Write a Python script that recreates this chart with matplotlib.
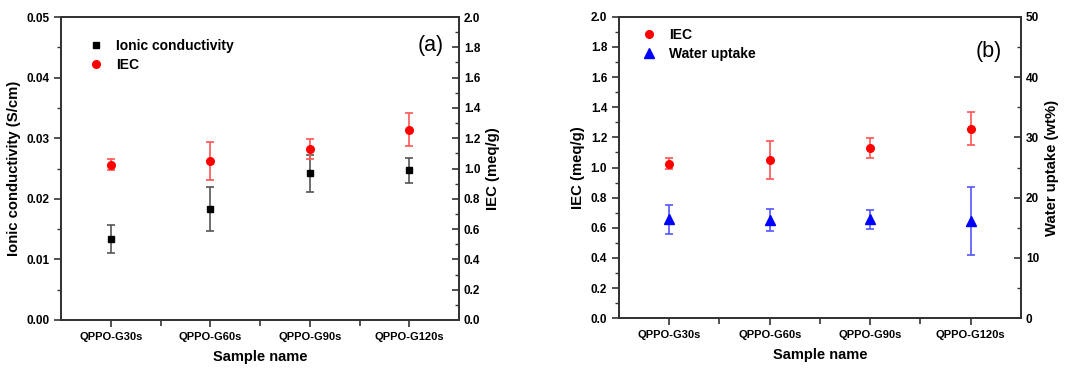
import matplotlib
matplotlib.use("Agg")
import matplotlib.pyplot as plt
from matplotlib.ticker import MultipleLocator

plt.rcParams['font.family'] = ['Liberation Sans', 'DejaVu Sans']

samples = ['QPPO-G30s', 'QPPO-G60s', 'QPPO-G90s', 'QPPO-G120s']
ionic = [0.0134, 0.0183, 0.0242, 0.0247]
ionic_err = [0.0023, 0.0036, 0.0031, 0.0021]
iec = [1.026, 1.049, 1.132, 1.257]
iec_err = [0.035, 0.125, 0.066, 0.11]
water = [16.4, 16.3, 16.4, 16.2]
water_err = [2.45, 1.75, 1.6, 5.65]

x = list(range(1, len(samples) + 1))
RED = '#ff0000'
BLUE = '#0000ff'
SPINE = '#333333'

fig = plt.figure(figsize=(10.72, 3.69), dpi=100)


def style_axes(ax, ax2):
    for a in (ax, ax2):
        for s in a.spines.values():
            s.set_linewidth(1.3)
            s.set_color(SPINE)
    ax.set_xlim(0.5, 4.5)
    ax.set_xticks(x)
    ax.set_xticklabels(samples, fontsize=8, fontweight='bold')
    ax.set_xticks([1.5, 2.5, 3.5], minor=True)
    ax.tick_params(axis='x', which='major', direction='out', length=5, width=1.2, colors=SPINE, labelcolor='black')
    ax.tick_params(axis='x', which='minor', direction='out', length=4, width=1.2, colors=SPINE)
    ax.tick_params(axis='y', which='major', direction='out', length=5, width=1.2, labelsize=8.5, colors=SPINE, labelcolor='black')
    ax.tick_params(axis='y', which='minor', direction='out', length=3, width=1.0, colors=SPINE)
    ax2.tick_params(axis='y', which='major', direction='in', length=5, width=1.2, labelsize=8.5, colors=SPINE, labelcolor='black')
    ax2.tick_params(axis='y', which='minor', direction='in', length=3, width=1.0, colors=SPINE)
    for lab in ax.get_yticklabels() + ax2.get_yticklabels():
        lab.set_fontweight('bold')
    ax.set_xlabel('Sample name', fontsize=10.5, fontweight='bold', labelpad=6)


# ---- (a) ----
ax1 = fig.add_axes([0.0569, 0.1328, 0.3713, 0.821])
ax1b = ax1.twinx()
ax1.set_ylim(0, 0.05)
ax1.yaxis.set_minor_locator(MultipleLocator(0.005))
ax1.set_yticks([0, 0.01, 0.02, 0.03, 0.04, 0.05])
ax1.set_yticklabels(['0.00', '0.01', '0.02', '0.03', '0.04', '0.05'])
ax1b.set_ylim(0, 2.0)
ax1b.yaxis.set_major_locator(MultipleLocator(0.2))
ax1b.yaxis.set_minor_locator(MultipleLocator(0.1))
style_axes(ax1, ax1b)

ax1.errorbar(x, ionic, yerr=ionic_err, fmt='none', ecolor='#555555', elinewidth=1.2, capsize=3, capthick=1.2)
h1, = ax1.plot(x, ionic, 's', color='black', markersize=5, label='Ionic conductivity')
ax1b.errorbar(x, iec, yerr=iec_err, fmt='none', ecolor='#ff5555', elinewidth=1.2, capsize=3, capthick=1.2)
h2, = ax1b.plot(x, iec, 'o', color=RED, markersize=5.5, label='IEC')
ax1.set_ylabel('Ionic conductivity (S/cm)', fontsize=10.7, fontweight='bold', labelpad=4)
ax1b.set_ylabel('IEC (meq/g)', fontsize=10.7, fontweight='bold', labelpad=4)
ax1b.legend(handles=[h1, h2], loc='upper left', bbox_to_anchor=(0.03, 0.97), frameon=False,
            prop={'weight': 'bold', 'size': 10}, handletextpad=0.7, labelspacing=0.4, handlelength=1.5)
ax1.text(0.93, 0.905, '(a)', transform=ax1.transAxes, fontsize=15.5, ha='center', va='center')

# ---- (b) ----
ax2 = fig.add_axes([0.5774, 0.1374, 0.375, 0.8173])
ax2b = ax2.twinx()
ax2.set_ylim(0, 2.0)
ax2.yaxis.set_major_locator(MultipleLocator(0.2))
ax2.yaxis.set_minor_locator(MultipleLocator(0.1))
ax2b.set_ylim(0, 50)
ax2b.yaxis.set_major_locator(MultipleLocator(10))
ax2b.yaxis.set_minor_locator(MultipleLocator(5))
style_axes(ax2, ax2b)

ax2.errorbar(x, iec, yerr=iec_err, fmt='none', ecolor='#ff5555', elinewidth=1.2, capsize=3, capthick=1.2)
h3, = ax2.plot(x, iec, 'o', color=RED, markersize=5.5, label='IEC')
ax2b.errorbar(x, water, yerr=water_err, fmt='none', ecolor='#5555ff', elinewidth=1.2, capsize=3, capthick=1.2)
h4, = ax2b.plot(x, water, '^', color=BLUE, markersize=6.5, label='Water uptake')
ax2.set_ylabel('IEC (meq/g)', fontsize=10.7, fontweight='bold', labelpad=4)
ax2b.set_ylabel('Water uptake (wt%)', fontsize=10.7, fontweight='bold', labelpad=4)
ax2b.legend(handles=[h3, h4], loc='upper left', bbox_to_anchor=(0.018, 1.005), frameon=False,
            prop={'weight': 'bold', 'size': 10}, handletextpad=0.7, labelspacing=0.4, handlelength=1.5)
ax2.text(0.92, 0.885, '(b)', transform=ax2.transAxes, fontsize=15.5, ha='center', va='center')

fig.savefig('out.png', dpi=100)
